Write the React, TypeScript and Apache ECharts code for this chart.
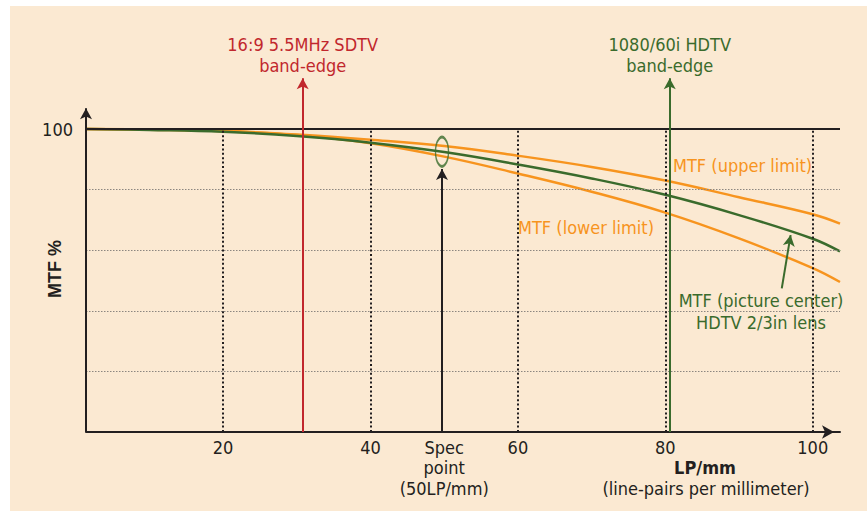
import React, { useEffect, useRef } from 'react';
import * as echarts from 'echarts';

// ---- data ----
const lpmm = [1.4, 10, 20, 30, 40, 50, 60, 70, 80, 90, 100, 103.7];
const mtfUpper = [100, 99.9, 99.4, 98.2, 96.5, 94.4, 91.2, 87.5, 83.0, 77.5, 71.9, 68.8];
const mtfCenter = [100, 99.7, 99.1, 97.7, 95.5, 92.4, 88.3, 83.7, 78.3, 71.6, 63.8, 59.6];
const mtfLower = [100, 99.8, 99.3, 98.0, 95.3, 90.9, 85.3, 79.3, 72.4, 63.9, 54.1, 49.5];
const xTickValues = [20, 40, 60, 80, 100];
const xLabelValues = [20, 40, 50, 60, 80, 100];
const yGridValues = [20, 40, 60, 80];
const yLabelValues = [100];
const specPoint = [49.7, 92.5];
const specArrowTop = 86.8;
const sdtvEdge = 30.8;
const hdtvEdge = 80.6;
const bandEdgeTop = 116.8;
const centerArrowFrom = [95.8, 47.4];
const centerArrowTo = [97.0, 65.0];
const X_MIN = 1.4;
const X_MAX = 103.7;
const Y_MAX = 118;
const Y_ARROW_TOP = 106.9;

const ORANGE = '#F7941E';
const GREEN = '#3A6B2C';
const RED = '#C1272D';
const BLACK = '#231F20';
const FONT = '"DejaVu Sans Condensed", "Liberation Sans Narrow", "Roboto Condensed", sans-serif';

export default function App() {
  const ref = useRef<HTMLDivElement>(null);
  useEffect(() => {
    if (!ref.current) return;
    const chart = echarts.init(ref.current, null, { renderer: 'svg' });
    const pairs = (ys: number[]) => lpmm.map((x, i) => [x, ys[i]]);
    const curve = (name: string, ys: number[], color: string) => ({
      name,
      type: 'line',
      data: pairs(ys),
      smooth: 0.4,
      symbol: 'none',
      clip: false,
      z: 3,
      lineStyle: { color, width: 2.5 },
      silent: true,
    });
    chart.setOption({
      animation: false,
      backgroundColor: 'transparent',
      grid: { left: 86, right: 27, top: 74.5, bottom: 85, containLabel: false },
      xAxis: {
        type: 'value',
        min: X_MIN,
        max: X_MAX,
        splitLine: { show: false },
        axisTick: { show: false },
        axisLine: {
          show: true,
          onZero: false,
          lineStyle: { color: BLACK, width: 2 },
          symbol: ['none', 'arrow'],
          symbolSize: [10, 12],
          symbolOffset: [0, -6],
        },
        axisLabel: {
          customValues: xLabelValues,
          formatter: (v: number) => (v === 50 ? 'Spec\npoint\n(50LP/mm)' : String(v)),
          color: BLACK,
          fontSize: 18,
          fontFamily: FONT,
          lineHeight: 20.5,
          margin: 5,
          align: 'center',
        },
      },
      yAxis: {
        type: 'value',
        min: 0,
        max: Y_MAX,
        splitLine: { show: false },
        axisTick: { show: false },
        axisLine: { show: false },
        axisLabel: {
          customValues: yLabelValues,
          color: BLACK,
          fontSize: 18,
          fontFamily: FONT,
          margin: 13,
        },
      },
      series: [
        {
          name: 'gridlines',
          type: 'line',
          data: [],
          z: 1,
          silent: true,
          markLine: {
            silent: true,
            symbol: ['none', 'none'],
            label: { show: false },
            emphasis: { disabled: true },
            data: [
              ...yGridValues.map((v) => ({
                yAxis: v,
                lineStyle: { color: '#8C8680', width: 1, type: [1.5, 1.5] },
              })),
              { yAxis: 100, lineStyle: { color: BLACK, width: 2, type: 'solid' } },
              ...xTickValues.map((v) => [
                { coord: [v, 0], lineStyle: { color: BLACK, width: 2, type: [2, 2.4] } },
                { coord: [v, 100] },
              ]),
            ],
          },
        },
        curve('MTF (upper limit)', mtfUpper, ORANGE),
        curve('MTF (lower limit)', mtfLower, ORANGE),
        curve('MTF (picture center)', mtfCenter, GREEN),
        {
          name: 'annotations',
          type: 'line',
          data: [],
          z: 5,
          silent: true,
          markLine: {
            silent: true,
            symbol: ['none', 'arrow'],
            symbolSize: [9, 11],
            label: { show: false },
            emphasis: { disabled: true },
            data: [
              [
                { coord: [X_MIN, 0], lineStyle: { color: BLACK, width: 2, type: 'solid' } },
                { coord: [X_MIN, Y_ARROW_TOP] },
              ],
              [
                {
                  coord: [sdtvEdge, 0],
                  lineStyle: { color: RED, width: 2, type: 'solid' },
                  label: {
                    show: true,
                    position: 'end',
                    distance: 2,
                    formatter: '16:9 5.5MHz SDTV\nband-edge',
                    color: RED,
                    fontSize: 18,
                    fontFamily: FONT,
                    lineHeight: 21,
                  },
                },
                { coord: [sdtvEdge, bandEdgeTop] },
              ],
              [
                {
                  coord: [hdtvEdge, 0],
                  lineStyle: { color: GREEN, width: 2, type: 'solid' },
                  label: {
                    show: true,
                    position: 'end',
                    distance: 2,
                    formatter: '1080/60i HDTV\nband-edge',
                    color: GREEN,
                    fontSize: 18,
                    fontFamily: FONT,
                    lineHeight: 21,
                  },
                },
                { coord: [hdtvEdge, bandEdgeTop] },
              ],
              [
                { coord: [specPoint[0], 0], lineStyle: { color: BLACK, width: 2, type: 'solid' } },
                { coord: [specPoint[0], specArrowTop] },
              ],
              [
                { coord: centerArrowFrom, lineStyle: { color: GREEN, width: 2, type: 'solid' } },
                { coord: centerArrowTo },
              ],
            ],
          },
        },
        {
          name: 'spec ellipse',
          type: 'scatter',
          data: [specPoint],
          symbol: 'circle',
          symbolSize: [13, 29],
          z: 6,
          silent: true,
          itemStyle: { color: 'rgba(0,0,0,0)', borderColor: GREEN, borderWidth: 2 },
        },
      ],
      graphic: [
        {
          type: 'text',
          x: 55,
          y: 269,
          rotation: Math.PI / 2,
          z: 10,
          style: {
            text: 'MTF %',
            fill: BLACK,
            fontSize: 18,
            fontWeight: 'bold',
            fontFamily: '"Liberation Sans", Arial, sans-serif',
            align: 'center',
            verticalAlign: 'middle',
          },
        },
        {
          type: 'text',
          x: 673,
          y: 165,
          z: 10,
          style: {
            text: 'MTF (upper limit)',
            fill: ORANGE,
            fontSize: 18,
            fontFamily: FONT,
            align: 'left',
            verticalAlign: 'middle',
          },
        },
        {
          type: 'text',
          x: 518,
          y: 227,
          z: 10,
          style: {
            text: 'MTF (lower limit)',
            fill: ORANGE,
            fontSize: 18,
            fontFamily: FONT,
            align: 'left',
            verticalAlign: 'middle',
          },
        },
        {
          type: 'text',
          x: 761,
          y: 311,
          z: 10,
          style: {
            text: 'MTF (picture center)\nHDTV 2/3in lens',
            fill: GREEN,
            fontSize: 18,
            fontFamily: FONT,
            lineHeight: 22,
            align: 'center',
            verticalAlign: 'middle',
          },
        },
        {
          type: 'text',
          x: 705,
          y: 467,
          z: 10,
          style: {
            text: 'LP/mm',
            fill: BLACK,
            fontSize: 18,
            fontWeight: 'bold',
            fontFamily: FONT,
            align: 'center',
            verticalAlign: 'middle',
          },
        },
        {
          type: 'text',
          x: 706,
          y: 488,
          z: 10,
          style: {
            text: '(line-pairs per millimeter)',
            fill: BLACK,
            fontSize: 18,
            fontFamily: FONT,
            align: 'center',
            verticalAlign: 'middle',
          },
        },
      ],
    });
    return () => chart.dispose();
  }, []);

  return (
    <div style={{ position: 'fixed', left: 0, top: 0, width: 867, height: 517, background: '#ffffff' }}>
      <div style={{ position: 'absolute', left: 10, top: 6, width: 857, height: 505, background: '#FBE9D2' }} />
      <div ref={ref} style={{ position: 'absolute', left: 0, top: 0, width: 867, height: 517 }} />
    </div>
  );
}
